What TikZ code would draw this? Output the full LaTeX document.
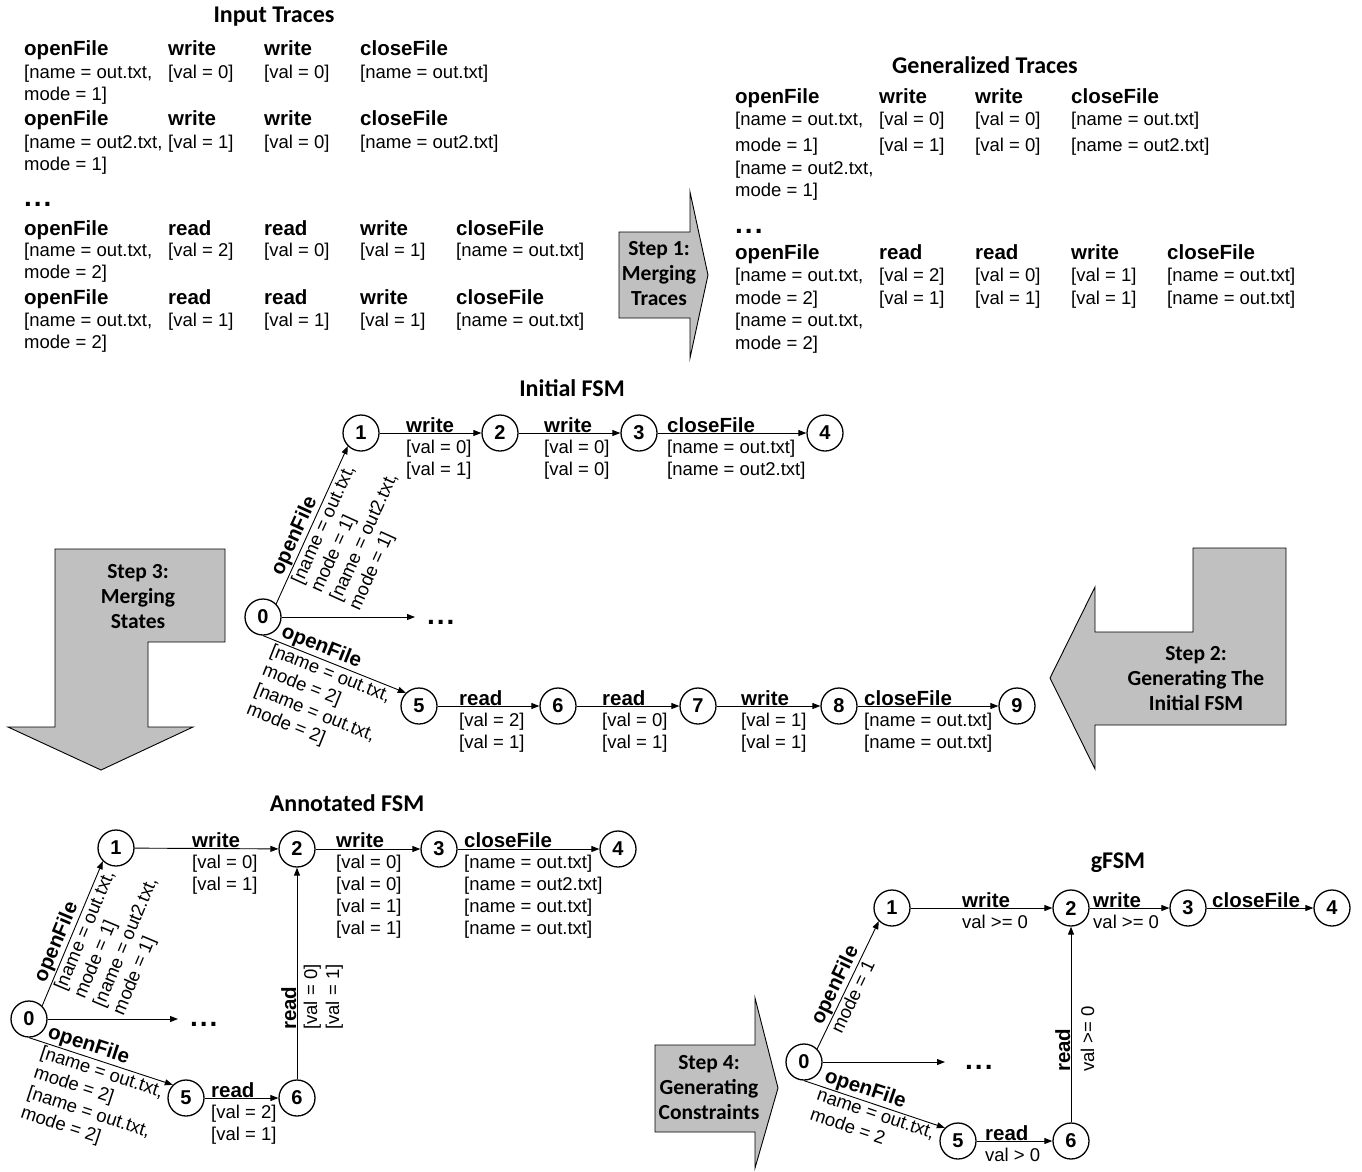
\documentclass[tikz,border=0pt]{standalone}
\usepackage{fontspec}
\setmainfont{Liberation Sans}
\newfontfamily\calfont{Carlito}
\usetikzlibrary{arrows.meta}
\definecolor{stepgray}{RGB}{192,192,192}
\newcommand\regsize{\fontsize{18.5}{21}\selectfont}
\newcommand\bldsize{\fontsize{20.5}{24}\selectfont\bfseries}
\newcommand\threedots{.\kern2pt.\kern2pt.}
\begin{document}
\begin{tikzpicture}[x=1pt,y=-1pt,
 reg/.style={font=\regsize, inner sep=0pt, anchor=base west},
 bld/.style={font=\bldsize, inner sep=0pt, anchor=base west},
 ttl/.style={font=\calfont\fontsize{24}{28}\selectfont\bfseries, inner sep=0pt},
 steptext/.style={font=\calfont\fontsize{21.5}{25}\selectfont\bfseries, align=center, inner sep=0pt},
 stepshape/.style={draw=black, fill=stepgray, line width=0.9pt, line join=miter},
 st/.style={circle, draw, line width=1.3pt, minimum size=36pt, inner sep=0pt, font=\fontsize{20}{24}\selectfont\bfseries},
 tr/.style={-{Triangle[length=8pt,width=6pt]}, line width=0.9pt},
 slabb/.style={sloped, font=\bldsize, inner sep=1pt},
 slabr/.style={sloped, font=\regsize, inner sep=2pt, align=left},
 dotsty/.style={font=\fontsize{28}{30}\selectfont\bfseries, inner sep=0pt, anchor=base west},
 vreg/.style={font=\regsize, inner sep=0pt, anchor=base west, rotate=90},
 vbld/.style={font=\bldsize, inner sep=0pt, anchor=base west, rotate=90},
]
\useasboundingbox (0,0) rectangle (1362,1171);

% ================= Input Traces =================
\node[ttl] (ttlIn) at (274,17) {Input Traces};
\node[bld] (a1) at (24,55) {openFile};
\node[bld] (a2) at (168,55) {write};
\node[bld] (a3) at (264,55) {write};
\node[bld] (a4) at (360,55) {closeFile};
\node[reg] (a5) at (24,78) {[name = out.txt,};
\node[reg] (a6) at (168,78) {[val = 0]};
\node[reg] (a7) at (264,78) {[val = 0]};
\node[reg] (a8) at (360,78) {[name = out.txt]};
\node[reg] (a9) at (24,100) {mode = 1]};

\node[bld] (b1) at (24,125) {openFile};
\node[bld] (b2) at (168,125) {write};
\node[bld] (b3) at (264,125) {write};
\node[bld] (b4) at (360,125) {closeFile};
\node[reg] (b5) at (24,148) {[name = out2.txt,};
\node[reg] (b6) at (168,148) {[val = 1]};
\node[reg] (b7) at (264,148) {[val = 0]};
\node[reg] (b8) at (360,148) {[name = out2.txt]};
\node[reg] (b9) at (24,170) {mode = 1]};

\node[dotsty] (bdots) at (24,206) {\threedots};

\node[bld] (c1) at (24,235) {openFile};
\node[bld] (c2) at (168,235) {read};
\node[bld] (c3) at (264,235) {read};
\node[bld] (c4) at (360,235) {write};
\node[bld] (c5) at (456,235) {closeFile};
\node[reg] (c6) at (24,256) {[name = out.txt,};
\node[reg] (c7) at (168,256) {[val = 2]};
\node[reg] (c8) at (264,256) {[val = 0]};
\node[reg] (c9) at (360,256) {[val = 1]};
\node[reg] (c10) at (456,256) {[name = out.txt]};
\node[reg] (c11) at (24,278) {mode = 2]};

\node[bld] (d1) at (24,304) {openFile};
\node[bld] (d2) at (168,304) {read};
\node[bld] (d3) at (264,304) {read};
\node[bld] (d4) at (360,304) {write};
\node[bld] (d5) at (456,304) {closeFile};
\node[reg] (d6) at (24,326) {[name = out.txt,};
\node[reg] (d7) at (168,326) {[val = 1]};
\node[reg] (d8) at (264,326) {[val = 1]};
\node[reg] (d9) at (360,326) {[val = 1]};
\node[reg] (d10) at (456,326) {[name = out.txt]};
\node[reg] (d11) at (24,348) {mode = 2]};

% ================= Generalized Traces =================
\node[ttl] (ttlGen) at (985,65) {Generalized Traces};
\node[bld] (e1) at (735,103) {openFile};
\node[bld] (e2) at (879,103) {write};
\node[bld] (e3) at (975,103) {write};
\node[bld] (e4) at (1071,103) {closeFile};
\node[reg] (e5) at (735,125) {[name = out.txt,};
\node[reg] (e6) at (879,125) {[val = 0]};
\node[reg] (e7) at (975,125) {[val = 0]};
\node[reg] (e8) at (1071,125) {[name = out.txt]};
\node[reg] (e9) at (735,151) {mode = 1]};
\node[reg] (e10) at (879,151) {[val = 1]};
\node[reg] (e11) at (975,151) {[val = 0]};
\node[reg] (e12) at (1071,151) {[name = out2.txt]};
\node[reg] (e13) at (735,174) {[name = out2.txt,};
\node[reg] (e14) at (735,196) {mode = 1]};

\node[dotsty] (edots) at (735,233) {\threedots};

\node[bld] (f1) at (735,259) {openFile};
\node[bld] (f2) at (879,259) {read};
\node[bld] (f3) at (975,259) {read};
\node[bld] (f4) at (1071,259) {write};
\node[bld] (f5) at (1167,259) {closeFile};
\node[reg] (f6) at (735,281) {[name = out.txt,};
\node[reg] (f7) at (879,281) {[val = 2]};
\node[reg] (f8) at (975,281) {[val = 0]};
\node[reg] (f9) at (1071,281) {[val = 1]};
\node[reg] (f10) at (1167,281) {[name = out.txt]};
\node[reg] (f11) at (735,304) {mode = 2]};
\node[reg] (f12) at (879,304) {[val = 1]};
\node[reg] (f13) at (975,304) {[val = 1]};
\node[reg] (f14) at (1071,304) {[val = 1]};
\node[reg] (f15) at (1167,304) {[name = out.txt]};
\node[reg] (f16) at (735,326) {[name = out.txt,};
\node[reg] (f17) at (735,349) {mode = 2]};

% ================= Step arrows =================
\draw[stepshape] (619,232) -- (690,232) -- (690,192) -- (708,275) -- (690,358) -- (690,318) -- (619,318) -- cycle;
\node[steptext] (s1) at (659,274) {Step 1:\\Merging\\Traces};

\draw[stepshape] (55,549) -- (225,549) -- (225,642) -- (148,642) -- (148,727) -- (193,727) -- (101,770) -- (8,727) -- (55,727) -- cycle;
\node[steptext] (s3) at (138,597) {Step 3:\\Merging\\States};

\draw[stepshape] (1193,548) -- (1286,548) -- (1286,725) -- (1095,725) -- (1095,769) -- (1050,678) -- (1095,587) -- (1095,632) -- (1193,632) -- cycle;
\node[steptext] (s2) at (1196,679) {Step 2:\\Generating The\\Initial FSM};

\draw[stepshape] (655,1045) -- (755,1045) -- (755,998) -- (778,1088) -- (755,1168) -- (755,1132) -- (655,1132) -- cycle;
\node[steptext] (s4) at (709,1088) {Step 4:\\Generating\\Constraints};

% ================= Initial FSM =================
\node[ttl] (ttlInit) at (572,388) {Initial FSM};
\node[st] (i0) at (263,617) {0};
\node[st] (i1) at (361,433) {1};
\node[st] (i2) at (500,433) {2};
\node[st] (i3) at (639,433) {3};
\node[st] (i4) at (825,433) {4};
\node[st] (i5) at (419,706) {5};
\node[st] (i6) at (558,706) {6};
\node[st] (i7) at (698,706) {7};
\node[st] (i8) at (839,706) {8};
\node[st] (i9) at (1017,706) {9};
\coordinate (i0d) at (415,617);

\draw[tr] (i1) -- (i2);
\draw[tr] (i2) -- (i3);
\draw[tr] (i3) -- (i4);
\draw[tr] (i5) -- (i6);
\draw[tr] (i6) -- (i7);
\draw[tr] (i7) -- (i8);
\draw[tr] (i8) -- (i9);
\draw[tr] (i0.east) -- (i0d);
\node[dotsty] (idots) at (427,624) {\threedots};
\draw[tr] (i0.north east) -- node[slabb, above, pos=0.4] (i01n) {openFile}
  node[slabr, below, pos=0.56] (i01l) {[name = out.txt,\\mode = 1]\\{}[name = out2.txt,\\mode = 1]} (i1.south west);
\draw[tr] (i0.south) -- node[slabb, above, pos=0.38] (i05n) {openFile}
  node[slabr, below, pos=0.5] (i05l) {[name = out.txt,\\mode = 2]\\{}[name = out.txt,\\mode = 2]} (i5.north west);

\node[bld] (g1) at (406,432) {write};
\node[reg] (g2) at (406,453) {[val = 0]};
\node[reg] (g3) at (406,475) {[val = 1]};
\node[bld] (g4) at (544,432) {write};
\node[reg] (g5) at (544,453) {[val = 0]};
\node[reg] (g6) at (544,475) {[val = 0]};
\node[bld] (g7) at (667,432) {closeFile};
\node[reg] (g8) at (667,453) {[name = out.txt]};
\node[reg] (g9) at (667,475) {[name = out2.txt]};
\node[bld] (h1) at (459,705) {read};
\node[reg] (h2) at (459,726) {[val = 2]};
\node[reg] (h3) at (459,748) {[val = 1]};
\node[bld] (h4) at (602,705) {read};
\node[reg] (h5) at (602,726) {[val = 0]};
\node[reg] (h6) at (602,748) {[val = 1]};
\node[bld] (h7) at (741,705) {write};
\node[reg] (h8) at (741,726) {[val = 1]};
\node[reg] (h9) at (741,748) {[val = 1]};
\node[bld] (h10) at (864,705) {closeFile};
\node[reg] (h11) at (864,726) {[name = out.txt]};
\node[reg] (h12) at (864,748) {[name = out.txt]};

% ================= Annotated FSM =================
\node[ttl] (ttlAnn) at (347,803) {Annotated FSM};
\node[st] (n0) at (29,1019) {0};
\node[st] (n1) at (116,848) {1};
\node[st] (n2) at (297,849) {2};
\node[st] (n3) at (439,849) {3};
\node[st] (n4) at (618,849) {4};
\node[st] (n5) at (186,1098) {5};
\node[st] (n6) at (297,1098) {6};
\coordinate (n0d) at (178,1019);

\draw[tr] (n1) -- (n2);
\draw[tr] (n2) -- (n3);
\draw[tr] (n3) -- (n4);
\draw[tr] (n5) -- (n6);
\draw[tr] (n6) -- (n2);
\draw[tr] (n0.east) -- (n0d);
\node[dotsty] (ndots) at (190,1026) {\threedots};
\draw[tr] (n0.north east) -- node[slabb, above, pos=0.41] (n01n) {openFile}
  node[slabr, below, pos=0.58] (n01l) {[name = out.txt,\\mode = 1]\\{}[name = out2.txt,\\mode = 1]} (n1.south west);
\draw[tr] (n0.south) -- node[slabb, above, pos=0.39] (n05n) {openFile}
  node[slabr, below, pos=0.53] (n05l) {[name = out.txt,\\mode = 2]\\{}[name = out.txt,\\mode = 2]} (n5.north west);

\node[bld] (k1) at (192,847) {write};
\node[reg] (k2) at (192,868) {[val = 0]};
\node[reg] (k3) at (192,890) {[val = 1]};
\node[bld] (k4) at (336,847) {write};
\node[reg] (k5) at (336,868) {[val = 0]};
\node[reg] (k6) at (336,890) {[val = 0]};
\node[reg] (k7) at (336,912) {[val = 1]};
\node[reg] (k8) at (336,934) {[val = 1]};
\node[bld] (k9) at (464,847) {closeFile};
\node[reg] (k10) at (464,868) {[name = out.txt]};
\node[reg] (k11) at (464,890) {[name = out2.txt]};
\node[reg] (k12) at (464,912) {[name = out.txt]};
\node[reg] (k13) at (464,934) {[name = out.txt]};
\node[bld] (k14) at (211,1097) {read};
\node[reg] (k15) at (211,1118) {[val = 2]};
\node[reg] (k16) at (211,1140) {[val = 1]};
\node[vbld] (k17) at (296,1030) {read};
\node[vreg] (k18) at (317,1030) {[val = 0]};
\node[vreg] (k19) at (339,1030) {[val = 1]};

% ================= gFSM =================
\node[ttl] (ttlG) at (1118,863) {gFSM};
\node[st] (m0) at (804,1062) {0};
\node[st] (m1) at (892,908) {1};
\node[st] (m2) at (1071,908) {2};
\node[st] (m3) at (1188,908) {3};
\node[st] (m4) at (1332,908) {4};
\node[st] (m5) at (958,1141) {5};
\node[st] (m6) at (1071,1141) {6};
\coordinate (m0d) at (945,1062);

\draw[tr] (m1) -- (m2);
\draw[tr] (m2) -- (m3);
\draw[tr] (m3) -- (m4);
\draw[tr] (m5) -- (m6);
\draw[tr] (m6) -- (m2);
\draw[tr] (m0.east) -- (m0d);
\node[dotsty] (mdots) at (965,1069) {\threedots};
\draw[tr] (m0.north east) -- node[slabb, above, pos=0.46] (m01n) {openFile}
  node[slabr, below, pos=0.44] (m01l) {mode = 1} (m1.south west);
\draw[tr] (m0.south) -- node[slabb, above, pos=0.41] (m05n) {openFile}
  node[slabr, below, pos=0.53] (m05l) {name = out.txt,\\mode = 2} (m5.north west);

\node[bld] (q1) at (962,907) {write};
\node[reg] (q2) at (962,928) {val >= 0};
\node[bld] (q3) at (1093,907) {write};
\node[reg] (q4) at (1093,928) {val >= 0};
\node[bld] (q5) at (1212,907) {closeFile};
\node[bld] (q6) at (985,1140) {read};
\node[reg] (q7) at (985,1161) {val > 0};
\node[vbld] (q8) at (1070,1072) {read};
\node[vreg] (q9) at (1094,1072) {val >= 0};
\end{tikzpicture}
\end{document}
